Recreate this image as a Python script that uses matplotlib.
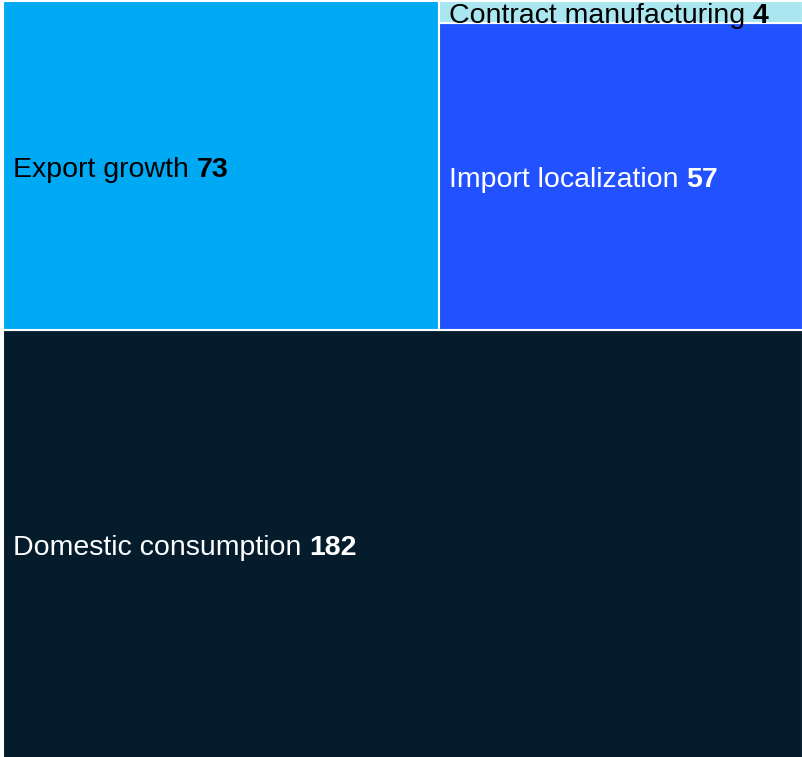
import matplotlib.pyplot as plt
import matplotlib.transforms as mtransforms
from matplotlib.patches import Rectangle

labels = ["Domestic consumption", "Export growth", "Import localization", "Contract manufacturing"]
values = [182, 73, 57, 4]
colors = ["#051C2C", "#00A9F4", "#2251FF", "#AAE6F0"]
text_colors = ["white", "black", "white", "black"]

plt.rcParams['font.family'] = ['Liberation Sans', 'DejaVu Sans']

W, H = 803, 757
fig = plt.figure(figsize=(W / 100, H / 100), dpi=100)
fig.patch.set_facecolor("white")

# axes runs a bit past the bottom edge, the chart is cut off there
ax_h = 776
ax = fig.add_axes([3 / W, (H - 1 - ax_h) / H, 800 / W, ax_h / H])
total = sum(values)
ax.set_xlim(0, 1)
ax.set_ylim(0, total)
ax.axis("off")

# slice and dice: bottom band, then top row split in two columns
rects = []
dom = values[0]
rects.append((0, 0, 1, dom))
top_h = total - dom
top_sum = values[1] + values[2] + values[3]
w_exp = values[1] / top_sum
rects.append((0, dom, w_exp, top_h))
right_sum = values[2] + values[3]
h_imp = top_h * values[2] / right_sum
rects.append((w_exp, dom, 1 - w_exp, h_imp))
rects.append((w_exp, dom + h_imp, 1 - w_exp, top_h - h_imp))

# visible bottom of the axes in data units
vis_bottom = total * (ax_h - (H - 1)) / ax_h

pad = 10 / 800
fs = 20.5
shift = mtransforms.ScaledTranslation(0, -4 / 100, fig.dpi_scale_trans)
for (x, y, w, h), lab, val, c, tc in zip(rects, labels, values, colors, text_colors):
    ax.add_patch(Rectangle((x, y), w, h, facecolor=c, edgecolor="white", linewidth=1.5))
    y0 = max(y, vis_bottom)
    cy = y0 + (y + h - y0) / 2
    t = ax.text(x + pad, cy, lab + " ", color=tc, fontsize=fs, va="center", ha="left",
                transform=ax.transData + shift)
    fig.canvas.draw()
    bb = t.get_window_extent().transformed(ax.transData.inverted())
    ax.text(bb.x1, cy, str(val), color=tc, fontsize=fs, va="center", ha="left",
            fontweight="bold", transform=ax.transData + shift)

fig.savefig("out.png", dpi=100)
